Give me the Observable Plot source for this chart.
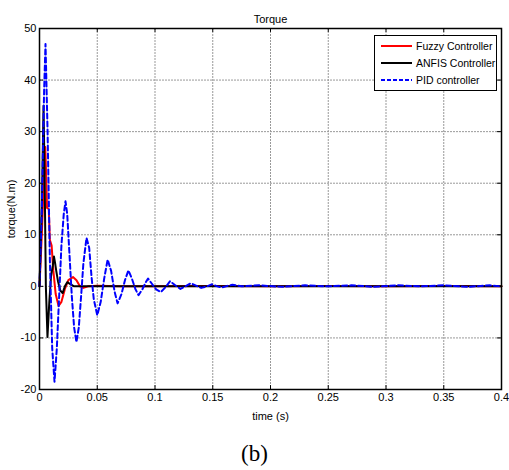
<!DOCTYPE html>
<html>
<head>
<meta charset="utf-8">
<script src="https://cdn.jsdelivr.net/npm/d3@7"></script>
<script src="https://cdn.jsdelivr.net/npm/@observablehq/plot@0.6"></script>
<style>
  html, body { margin: 0; padding: 0; background: #fff; }
  #wrap { position: relative; width: 509px; height: 470px; font-family: "Liberation Sans", Arial, sans-serif; }
  #legend { position: absolute; left: 374px; top: 35px; width: 121px; height: 54px; border: 1px solid #000; background: #fff; font-size: 10.5px; }
  #legend .row { position: absolute; left: 6px; height: 14px; display: flex; align-items: center; white-space: nowrap; }
  #legend svg { margin-right: 4px; flex: none; }
  #cap { position: absolute; left: 0; width: 509px; top: 441px; text-align: center; font-family: "Liberation Serif", "Times New Roman", serif; font-size: 23px; }
</style>
</head>
<body>
<div id="wrap">
  <div id="chart"></div>
  <div id="legend"></div>
  <div id="cap">(b)</div>
</div>
<script>
// ---- data ----
const seriesNames = ["Fuzzy Controller", "ANFIS Controller", "PID controller"];

const fuzzyT = [0, 0.002, 0.004, 0.005, 0.006, 0.0065, 0.008, 0.009, 0.0105, 0.012, 0.014, 0.0165, 0.019, 0.022, 0.025, 0.029, 0.032, 0.035, 0.038, 0.042, 0.05, 0.07, 0.1, 0.15, 0.2, 0.25, 0.3, 0.35, 0.4];
const fuzzyV = [0, 10, 22, 27, 20, 15.2, 15, 9, 7.9, 3, -1.5, -3.8, -3, -0.5, 1.2, 1.8, 1.2, 0, -0.3, 0, 0.1, 0, 0, 0.05, 0, 0.05, 0, 0.05, 0];

const anfisT = [0, 0.002, 0.0035, 0.0045, 0.0055, 0.0069, 0.0085, 0.010, 0.0115, 0.0125, 0.0135, 0.0145, 0.016, 0.018, 0.020, 0.022, 0.024, 0.027, 0.03, 0.05, 0.1, 0.15, 0.2, 0.25, 0.3, 0.35, 0.4];
const anfisV = [0, 15, 35, 20, 0, -9.8, -3, 2, 4, 5.8, 4.5, 3, 1, -0.8, -1.3, 0, 0.8, 0.4, 0, 0, 0, 0, 0, 0, 0, 0, 0];

const pidT = [0, 0.002, 0.004, 0.0052, 0.007, 0.009, 0.011, 0.013, 0.015, 0.017, 0.019, 0.021, 0.0225, 0.024, 0.026, 0.028, 0.030, 0.032, 0.034, 0.036, 0.038, 0.0407, 0.043, 0.045, 0.047, 0.050, 0.053, 0.056, 0.059, 0.062, 0.065, 0.0676, 0.071, 0.074, 0.077, 0.080, 0.083, 0.0857, 0.089, 0.092, 0.094, 0.097, 0.101, 0.105, 0.109, 0.113, 0.117, 0.122, 0.127, 0.131, 0.136, 0.140, 0.145, 0.149, 0.154, 0.158, 0.163, 0.167, 0.175, 0.19, 0.21, 0.23, 0.25, 0.27, 0.29, 0.31, 0.33, 0.35, 0.37, 0.39, 0.4];
const pidV = [0, 15, 38, 47, 30, 5, -12, -18.5, -12, -2, 8, 14, 16.5, 14, 6, -2, -8, -10.8, -8, -2, 4.5, 9.4, 7.5, 2, -2.5, -5.6, -3, 1.5, 5.2, 3, -1, -3.3, -1.5, 1.2, 3.1, 1.5, -0.5, -1.7, -0.6, 0.8, 1.5, 0.6, -0.6, -1.1, -0.2, 1.0, 0.3, -0.5, 0.1, 0.6, 0.1, -0.3, 0, 0.4, 0, -0.2, 0.1, 0.3, 0, 0.2, -0.1, 0.2, 0, 0.2, -0.1, 0.2, 0, 0.2, -0.1, 0.2, 0];

const xTicks = [0, 0.05, 0.1, 0.15, 0.2, 0.25, 0.3, 0.35, 0.4];
const xTickLabels = ["0", "0.05", "0.1", "0.15", "0.2", "0.25", "0.3", "0.35", "0.4"];
const yTicks = [-20, -10, 0, 10, 20, 30, 40, 50];
const yTickLabels = ["-20", "-10", "0", "10", "20", "30", "40", "50"];
const colors = ["#ff0000", "#000000", "#0000ff"];

// ---- build tables ----
const rows = [];
fuzzyT.forEach((t, i) => rows.push({t, v: fuzzyV[i], s: seriesNames[0]}));
anfisT.forEach((t, i) => rows.push({t, v: anfisV[i], s: seriesNames[1]}));
pidT.forEach((t, i) => rows.push({t, v: pidV[i], s: seriesNames[2]}));

const X0 = 0, X1 = 0.4, Y0 = -20, Y1 = 50;
const ytl = 0.75, xtl = 0.0035;

const chart = Plot.plot({
  width: 509,
  height: 430,
  marginLeft: 39,
  marginRight: 8,
  marginTop: 28,
  marginBottom: 41,
  style: {fontFamily: "'Liberation Sans', Arial, sans-serif", fontSize: "11px", background: "#fff"},
  x: {domain: [X0, X1]},
  y: {domain: [Y0, Y1]},
  marks: [
    Plot.ruleX(xTicks.slice(1, -1), {stroke: "#999", strokeDasharray: "2,1", strokeWidth: 1}),
    Plot.ruleY(yTicks.slice(1, -1), {stroke: "#999", strokeDasharray: "2,1", strokeWidth: 1}),
    // inward tick marks
    Plot.ruleX(xTicks, {y1: Y0, y2: Y0 + ytl, stroke: "#000"}),
    Plot.ruleX(xTicks, {y1: Y1, y2: Y1 - ytl, stroke: "#000"}),
    Plot.ruleY(yTicks, {x1: X0, x2: X0 + xtl, stroke: "#000"}),
    Plot.ruleY(yTicks, {x1: X1, x2: X1 - xtl, stroke: "#000"}),
    Plot.line(rows.filter(d => d.s === seriesNames[0]), {x: "t", y: "v", stroke: colors[0], strokeWidth: 2}),
    Plot.line(rows.filter(d => d.s === seriesNames[1]), {x: "t", y: "v", stroke: colors[1], strokeWidth: 2}),
    Plot.line(rows.filter(d => d.s === seriesNames[2]), {x: "t", y: "v", stroke: colors[2], strokeWidth: 2, strokeDasharray: "5,3"}),
    Plot.frame({stroke: "#000", strokeWidth: 1.5}),
    Plot.axisX(xTicks, {tickSize: 0, tickPadding: 4, tickFormat: (d, i) => xTickLabels[i], label: "time (s)", labelAnchor: "center", labelArrow: "none", labelOffset: 30, fill: "#000"}),
    Plot.axisY(yTicks, {tickSize: 0, tickPadding: 3, tickFormat: (d, i) => yTickLabels[i], label: "torque(N.m)", labelAnchor: "center", labelArrow: "none", labelOffset: 32, fill: "#000"}),
    Plot.text(["Torque"], {frameAnchor: "top", dy: -13, fill: "#000", fontSize: 11})
  ]
});
document.getElementById("chart").appendChild(chart);

// ---- legend ----
const leg = document.getElementById("legend");
seriesNames.forEach((name, i) => {
  const row = document.createElement("div");
  row.className = "row";
  row.style.top = (3 + i * 17) + "px";
  const dash = i === 2 ? 'stroke-dasharray="4,2"' : "";
  row.innerHTML = `<svg width="31" height="6"><line x1="0" y1="3" x2="31" y2="3" stroke="${colors[i]}" stroke-width="2" ${dash}/></svg><span>${name}</span>`;
  leg.appendChild(row);
});
</script>
</body>
</html>
